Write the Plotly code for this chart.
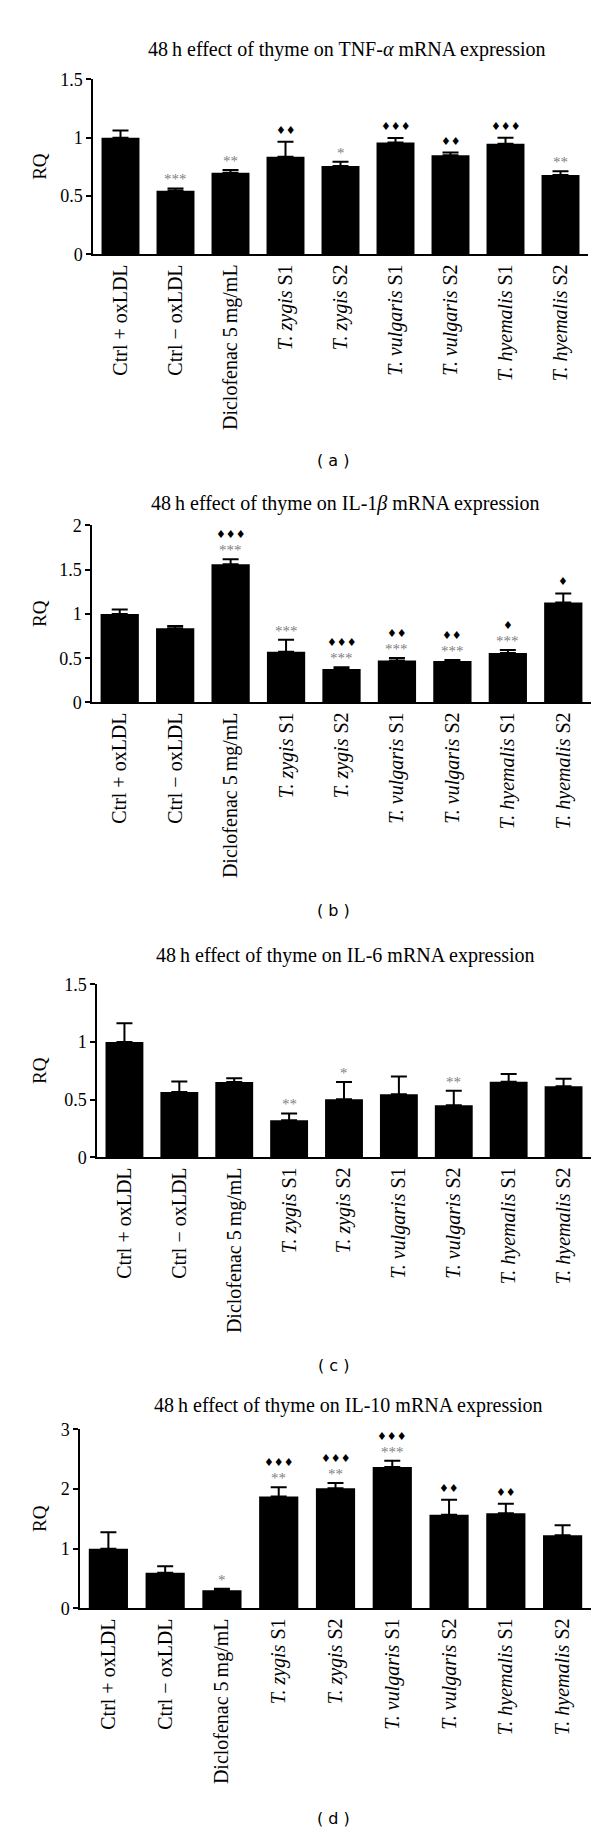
import plotly.graph_objects as go

categories = ["Ctrl + oxLDL", "Ctrl − oxLDL", "Diclofenac 5 mg/mL", "T. zygis S1", "T. zygis S2",
              "T. vulgaris S1", "T. vulgaris S2", "T. hyemalis S1", "T. hyemalis S2"]
tick_text = ["Ctrl + oxLDL", "Ctrl − oxLDL", "Diclofenac 5\u2009mg/mL", "<i>T. zygis</i> S1", "<i>T. zygis</i> S2",
             "<i>T. vulgaris</i> S1", "<i>T. vulgaris</i> S2", "<i>T. hyemalis</i> S1", "<i>T. hyemalis</i> S2"]

tnf_vals = [1.00, 0.545, 0.70, 0.836, 0.757, 0.958, 0.85, 0.949, 0.68]
tnf_err = [0.062, 0.02, 0.023, 0.13, 0.037, 0.039, 0.023, 0.051, 0.032]
tnf_stars = ["", "***", "**", "", "*", "", "", "", "**"]
tnf_dia = ["", "", "", "♦♦", "", "♦♦♦", "♦♦", "♦♦♦", ""]

il1_vals = [1.0, 0.837, 1.561, 0.574, 0.379, 0.473, 0.469, 0.559, 1.129]
il1_err = [0.05, 0.026, 0.056, 0.135, 0.019, 0.03, 0.011, 0.034, 0.102]
il1_stars = ["", "", "***", "***", "***", "***", "***", "***", ""]
il1_dia = ["", "", "♦♦♦", "", "♦♦♦", "♦♦", "♦♦", "♦", "♦"]

il6_vals = [1.0, 0.567, 0.653, 0.323, 0.504, 0.547, 0.452, 0.656, 0.616]
il6_err = [0.162, 0.091, 0.034, 0.058, 0.149, 0.154, 0.126, 0.068, 0.065]
il6_stars = ["", "", "", "**", "*", "", "**", "", ""]
il6_dia = ["", "", "", "", "", "", "", "", ""]

il10_vals = [1.0, 0.598, 0.304, 1.876, 2.014, 2.369, 1.572, 1.594, 1.229]
il10_err = [0.278, 0.11, 0.028, 0.155, 0.089, 0.105, 0.249, 0.16, 0.166]
il10_stars = ["", "", "*", "**", "**", "***", "", "", ""]
il10_dia = ["", "", "", "♦♦♦", "♦♦♦", "♦♦♦", "♦♦", "♦♦", ""]

titles = ["48\u2009h effect of thyme on TNF-<i>α</i> mRNA expression",
          "48\u2009h effect of thyme on IL-1<i>β</i> mRNA expression",
          "48\u2009h effect of thyme on IL-6 mRNA expression",
          "48\u2009h effect of thyme on IL-10 mRNA expression"]
panel_labels = ["( a )", "( b )", "( c )", "( d )"]
y_max = [1.5, 2, 1.5, 3]
y_dtick = [0.5, 0.5, 0.5, 1]

W, H = 600, 1836
# pixel layout of each panel: x0, x1, ytop, ybottom
boxes = [(85, 580, 62, 239), (84, 583, 513, 692), (89, 583, 977, 1152), (72, 583, 1427, 1608)]
title_y = [32, 491, 948, 1403]
title_x = [339, 337, 337, 340]
label_y = [447, 902, 1362, 1820]

SERIF = "Liberation Serif, Times New Roman, serif"

panels = [(tnf_vals, tnf_err, tnf_stars, tnf_dia), (il1_vals, il1_err, il1_stars, il1_dia),
          (il6_vals, il6_err, il6_stars, il6_dia), (il10_vals, il10_err, il10_stars, il10_dia)]

fig = go.Figure()
annotations = []
layout = {}
for i, (vals, err, stars, dia) in enumerate(panels):
    n = i + 1
    xa = "x" if n == 1 else f"x{n}"
    ya = "y" if n == 1 else f"y{n}"
    fig.add_trace(go.Bar(
        x=categories, y=vals, xaxis=xa, yaxis=ya,
        marker=dict(color="black", line=dict(width=0)),
        error_y=dict(type="data", array=err, arrayminus=[0] * len(err), symmetric=False,
                     color="black", thickness=2, width=8),
        showlegend=False, hoverinfo="skip"))
    x0, x1, yt, yb = boxes[i]
    layout["xaxis" if n == 1 else f"xaxis{n}"] = dict(
        domain=[x0 / W, x1 / W], anchor=ya, type="category",
        tickvals=categories, ticktext=tick_text, tickangle=-90,
        tickfont=dict(family=SERIF, size=20, color="black"),
        showline=True, linecolor="black", linewidth=2, ticks="", showgrid=False,
        range=[-0.5, 8.5], fixedrange=True)
    layout["yaxis" if n == 1 else f"yaxis{n}"] = dict(
        domain=[1 - yb / H, 1 - yt / H], anchor=xa, range=[0, y_max[i]], dtick=y_dtick[i],
        tick0=0, showline=True, linecolor="black", linewidth=1.5, ticks="outside",
        ticklen=5, tickwidth=1.5, tickcolor="black", showgrid=False, zeroline=False,
        tickfont=dict(family=SERIF, size=18, color="black"), fixedrange=True)
    # title
    annotations.append(dict(text=titles[i], x=title_x[i] / W, y=1 - title_y[i] / H,
                            xref="paper", yref="paper", showarrow=False, xanchor="center",
                            yanchor="middle", font=dict(family=SERIF, size=20, color="black")))
    # RQ
    annotations.append(dict(text="RQ", x=32 / W, y=1 - (yt + yb) / 2 / H, xref="paper", yref="paper",
                            showarrow=False, textangle=-90, xanchor="center", yanchor="middle",
                            font=dict(family=SERIF, size=19, color="black")))
    # panel label
    annotations.append(dict(text=panel_labels[i], x=325 / W, y=1 - label_y[i] / H, xref="paper",
                            yref="paper", showarrow=False, xanchor="center", yanchor="middle",
                            font=dict(family="DejaVu Sans, Verdana, sans-serif", size=16, color="black")))
    # significance marks
    for c, v, e, s, d in zip(categories, vals, err, stars, dia):
        top = v + e
        shift = 3
        if s:
            annotations.append(dict(text=s, x=c, y=top, xref=xa, yref=ya, showarrow=False,
                                    xanchor="center", yanchor="bottom", yshift=shift - 4,
                                    font=dict(family=SERIF, size=15, color="#808080")))
            shift += 13
        if d:
            annotations.append(dict(text=d, x=c, y=top, xref=xa, yref=ya, showarrow=False,
                                    xanchor="center", yanchor="bottom", yshift=shift,
                                    font=dict(family="DejaVu Sans, sans-serif", size=11, color="black")))

fig.update_layout(width=W, height=H, margin=dict(l=0, r=0, t=0, b=0),
                  paper_bgcolor="white", plot_bgcolor="white", bargap=0.31,
                  annotations=annotations, **layout)
fig.write_html("out.html")
